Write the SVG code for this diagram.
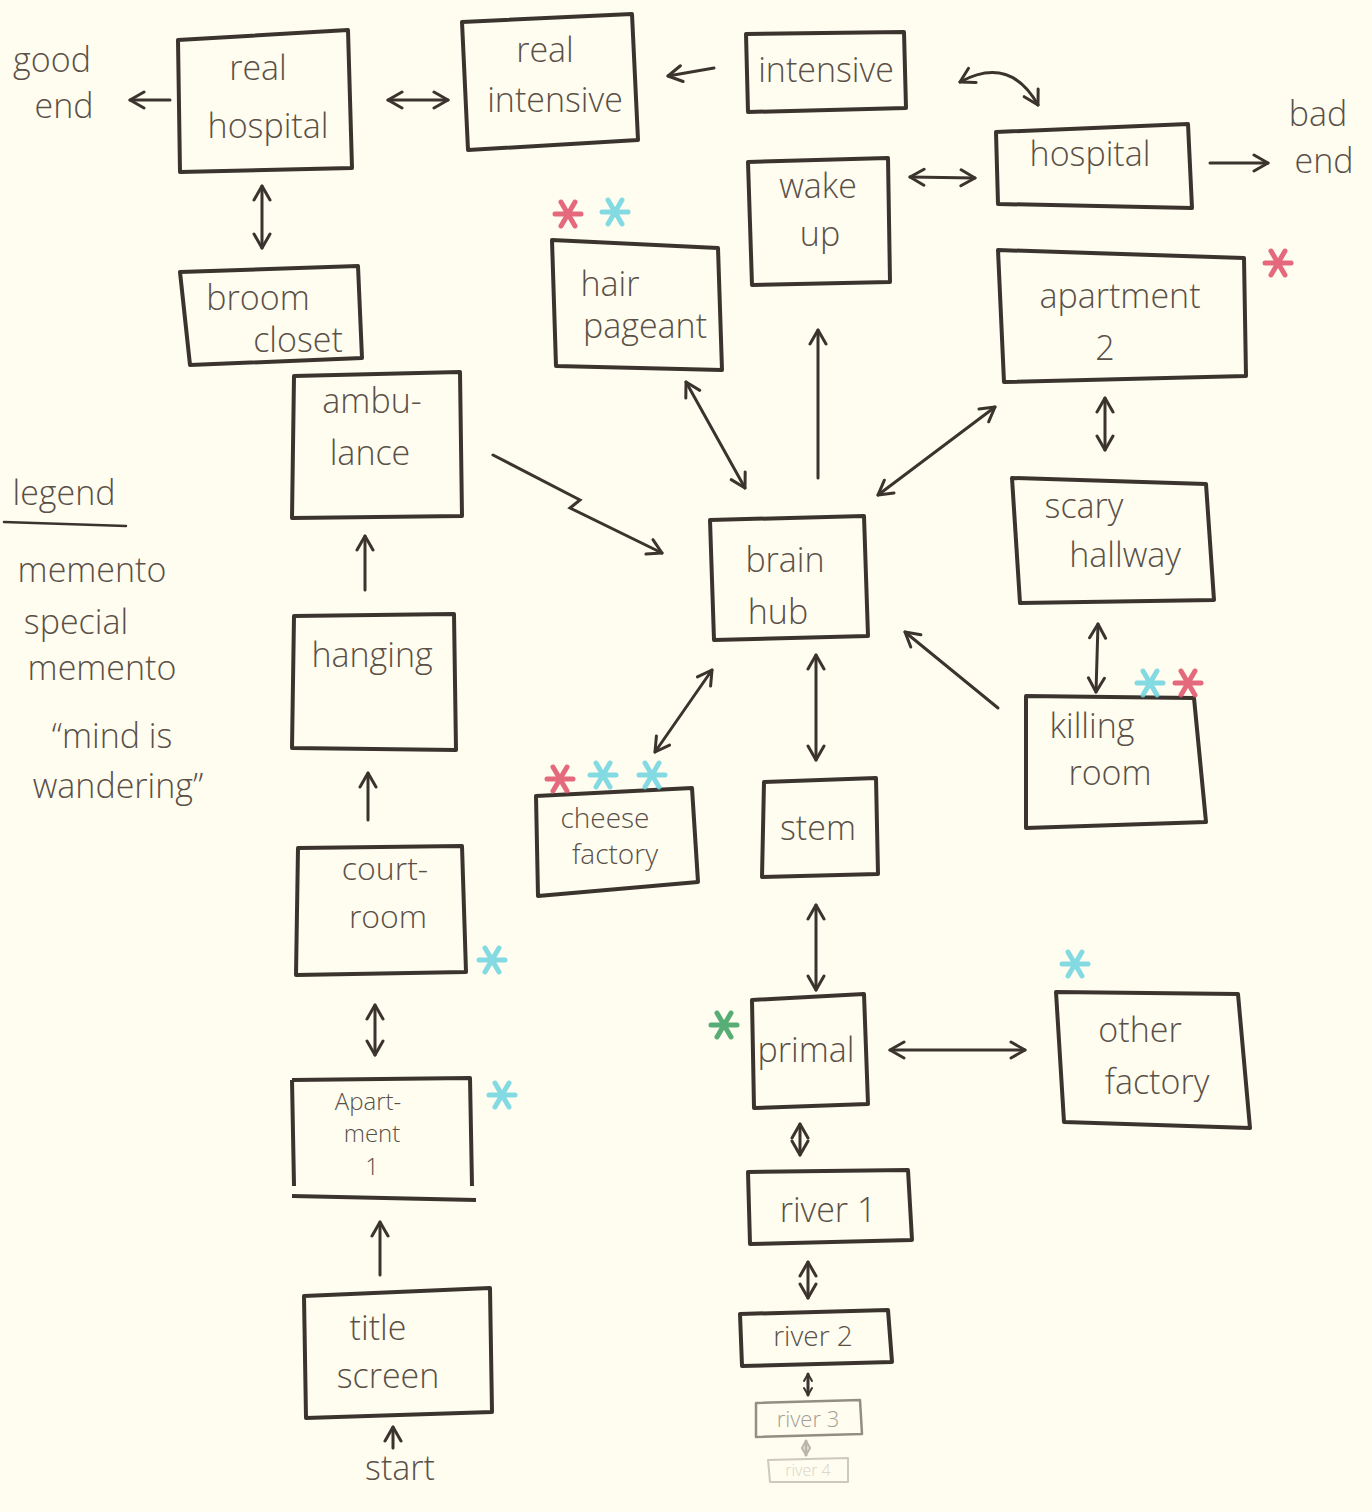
<svg xmlns="http://www.w3.org/2000/svg" width="1372" height="1512" viewBox="0 0 1372 1512">
<style>
.bx{fill:none;stroke:#3b342e;stroke-width:4;stroke-linejoin:round}
.t{font-family:"Open Sans","DejaVu Sans",sans-serif;font-size:34px;fill:#5a5048;text-anchor:middle;font-weight:300}
.ts{font-size:28px}
.tx{font-size:24px}
.tm{font-size:32px}
.c{fill:none;stroke:#3b342e;stroke-width:3;stroke-linecap:round}
.st{stroke-width:5;stroke-linecap:round;opacity:0.85}
.red{stroke:#e0506a}
.cy{stroke:#6fd4e0}
.gr{stroke:#3aa060}
.faint{opacity:0.35}
</style>
<defs>
<marker id="ah" viewBox="0 0 20 20" refX="18" refY="10" markerWidth="20" markerHeight="20" markerUnits="userSpaceOnUse" orient="auto-start-reverse">
<path d="M4,2 L18,10 L4,18" fill="none" stroke="#3b342e" stroke-width="3" stroke-linecap="round" stroke-linejoin="round"/>
</marker>
<marker id="ahs" viewBox="0 0 20 20" refX="18" refY="10" markerWidth="10" markerHeight="10" markerUnits="userSpaceOnUse" orient="auto-start-reverse">
<path d="M4,2 L18,10 L4,18" fill="none" stroke="#3b342e" stroke-width="4" stroke-linecap="round" stroke-linejoin="round"/>
</marker>
<g id="star"><line x1="-13" y1="0" x2="13" y2="0"/><line x1="-7" y1="-12" x2="7" y2="12"/><line x1="7" y1="-12" x2="-7" y2="12"/></g>
</defs>
<rect width="1372" height="1512" fill="#fffdef"/>

<g id="connectors">
<path class="c" d="M170,100 L130,100" marker-end="url(#ah)"/>
<path class="c" d="M388,100 L448,100" marker-start="url(#ah)" marker-end="url(#ah)"/>
<path class="c" d="M714,68 L668,76" marker-end="url(#ah)"/>
<path class="c" d="M960,82 Q1010,55 1038,105" marker-start="url(#ah)" marker-end="url(#ah)"/>
<path class="c" d="M910,177 L975,178" marker-start="url(#ah)" marker-end="url(#ah)"/>
<path class="c" d="M1210,163 L1268,163" marker-end="url(#ah)"/>
<path class="c" d="M262,186 L262,248" marker-start="url(#ah)" marker-end="url(#ah)"/>
<path class="c" d="M493,455 L580,500 L570,508 L662,553" marker-end="url(#ah)"/>
<path class="c" d="M365,590 L365,536" marker-end="url(#ah)"/>
<path class="c" d="M368,820 L368,773" marker-end="url(#ah)"/>
<path class="c" d="M375,1005 L375,1055" marker-start="url(#ah)" marker-end="url(#ah)"/>
<path class="c" d="M380,1275 L380,1222" marker-end="url(#ah)"/>
<path class="c" d="M393,1448 L393,1427" marker-end="url(#ah)"/>
<path class="c" d="M745,488 L686,382" marker-start="url(#ah)" marker-end="url(#ah)"/>
<path class="c" d="M818,478 L818,330" marker-end="url(#ah)"/>
<path class="c" d="M878,495 L995,407" marker-start="url(#ah)" marker-end="url(#ah)"/>
<path class="c" d="M1105,398 L1105,450" marker-start="url(#ah)" marker-end="url(#ah)"/>
<path class="c" d="M1098,624 L1096,692" marker-start="url(#ah)" marker-end="url(#ah)"/>
<path class="c" d="M998,708 L905,632" marker-end="url(#ah)"/>
<path class="c" d="M712,670 L655,752" marker-start="url(#ah)" marker-end="url(#ah)"/>
<path class="c" d="M816,655 L816,760" marker-start="url(#ah)" marker-end="url(#ah)"/>
<path class="c" d="M816,905 L816,990" marker-start="url(#ah)" marker-end="url(#ah)"/>
<path class="c" d="M890,1050 L1025,1050" marker-start="url(#ah)" marker-end="url(#ah)"/>
<path class="c" d="M800,1124 L800,1155" marker-start="url(#ah)" marker-end="url(#ah)"/>
<path class="c" d="M808,1262 L808,1298" marker-start="url(#ah)" marker-end="url(#ah)"/>
<path class="c" d="M808,1374 L808,1395" marker-start="url(#ahs)" marker-end="url(#ahs)"/>
<path class="c faint" d="M806,1441 L806,1455" marker-start="url(#ahs)" marker-end="url(#ahs)"/>
</g>

<g id="good-end"><text class="t" x="52" y="72">good</text><text class="t" x="64" y="118">end</text></g>
<g id="bad-end"><text class="t" x="1318" y="126">bad</text><text class="t" x="1324" y="173">end</text></g>
<g id="start"><text class="t" x="400" y="1480">start</text></g>

<g id="real-hospital"><path class="bx" d="M178,40 L348,30 L352,168 L180,172 Z"/><text class="t" x="258" y="80">real</text><text class="t" x="268" y="138">hospital</text></g>
<g id="real-intensive"><path class="bx" d="M462,22 L632,14 L638,140 L468,150 Z"/><text class="t" x="545" y="62">real</text><text class="t" x="555" y="112">intensive</text></g>
<g id="intensive"><path class="bx" d="M746,34 L904,32 L906,108 L748,112 Z"/><text class="t" x="826" y="82">intensive</text></g>
<g id="hospital"><path class="bx" d="M996,132 L1188,124 L1192,208 L998,204 Z"/><text class="t" x="1090" y="166">hospital</text></g>
<g id="wake-up"><path class="bx" d="M748,162 L888,158 L890,282 L752,285 Z"/><text class="t" x="818" y="198">wake</text><text class="t" x="820" y="246">up</text></g>
<g id="hair-pageant"><path class="bx" d="M552,240 L718,248 L722,370 L556,366 Z"/><text class="t" x="610" y="296">hair</text><text class="t" x="645" y="338">pageant</text>
<use href="#star" x="568" y="214" class="st red"/><use href="#star" x="615" y="212" class="st cy"/></g>
<g id="apartment-2"><path class="bx" d="M998,250 L1244,258 L1246,376 L1004,382 Z"/><text class="t" x="1120" y="308">apartment</text><text class="t" x="1105" y="360">2</text>
<use href="#star" x="1278" y="263" class="st red"/></g>
<g id="broom-closet"><path class="bx" d="M180,272 L358,266 L362,358 L190,365 Z"/><text class="t" x="258" y="310">broom</text><text class="t" x="298" y="352">closet</text></g>
<g id="ambulance"><path class="bx" d="M294,376 L460,372 L462,516 L292,518 Z"/><text class="t" x="372" y="413">ambu-</text><text class="t" x="370" y="465">lance</text></g>
<g id="brain-hub"><path class="bx" d="M710,520 L864,516 L868,636 L714,640 Z"/><text class="t" x="785" y="572">brain</text><text class="t" x="778" y="624">hub</text></g>
<g id="scary-hallway"><path class="bx" d="M1012,478 L1206,484 L1214,600 L1020,603 Z"/><text class="t" x="1084" y="518">scary</text><text class="t" x="1125" y="567">hallway</text></g>
<g id="hanging"><path class="bx" d="M294,616 L454,614 L456,750 L292,748 Z"/><text class="t" x="372" y="667">hanging</text></g>
<g id="killing-room"><path class="bx" d="M1026,696 L1194,698 L1206,822 L1026,828 Z"/><text class="t" x="1092" y="738">killing</text><text class="t" x="1110" y="785">room</text>
<use href="#star" x="1150" y="683" class="st cy"/><use href="#star" x="1188" y="683" class="st red"/></g>
<g id="cheese-factory"><path class="bx" d="M536,796 L692,788 L698,882 L538,896 Z"/><text class="t ts" x="605" y="828">cheese</text><text class="t ts" x="615" y="864">factory</text>
<use href="#star" x="560" y="779" class="st red"/><use href="#star" x="603" y="775" class="st cy"/><use href="#star" x="652" y="775" class="st cy"/></g>
<g id="stem"><path class="bx" d="M764,782 L876,778 L878,874 L762,877 Z"/><text class="t" x="818" y="840">stem</text></g>
<g id="court-room"><path class="bx" d="M298,848 L462,846 L466,972 L296,975 Z"/><text class="t tm" x="385" y="880">court-</text><text class="t tm" x="388" y="928">room</text>
<use href="#star" x="492" y="960" class="st cy"/></g>
<g id="primal"><path class="bx" d="M752,1000 L864,994 L868,1104 L754,1108 Z"/><text class="t" x="806" y="1062">primal</text>
<use href="#star" x="724" y="1025" class="st gr"/></g>
<g id="other-factory"><path class="bx" d="M1056,992 L1238,994 L1250,1128 L1064,1122 Z"/><text class="t" x="1140" y="1042">other</text><text class="t" x="1157" y="1094">factory</text>
<use href="#star" x="1075" y="964" class="st cy"/></g>
<g id="apartment-1"><path class="bx" d="M292,1080 L470,1078 L472,1186 M294,1186 L292,1080 M292,1196 L476,1200"/><text class="t tx" x="368" y="1110">Apart-</text><text class="t tx" x="372" y="1142">ment</text><text class="t tx" x="372" y="1175">1</text>
<use href="#star" x="502" y="1095" class="st cy"/></g>
<g id="river-1"><path class="bx" d="M748,1172 L908,1170 L912,1240 L750,1244 Z"/><text class="t" x="828" y="1222">river 1</text></g>
<g id="title-screen"><path class="bx" d="M304,1296 L490,1288 L492,1412 L306,1418 Z"/><text class="t" x="378" y="1340">title</text><text class="t" x="388" y="1388">screen</text></g>
<g id="river-2"><path class="bx" d="M740,1314 L888,1310 L892,1362 L742,1366 Z"/><text class="t ts" x="813" y="1346">river 2</text></g>
<g id="river-3" opacity="0.55"><path class="bx" d="M756,1403 L860,1400 L862,1434 L756,1437 Z" style="stroke-width:2.5"/><text class="t" x="808" y="1427" style="font-size:22px">river 3</text></g>
<g id="river-4" opacity="0.25"><path class="bx" d="M768,1460 L848,1458 L848,1482 L770,1482 Z" style="stroke-width:2"/><text class="t" x="808" y="1476" style="font-size:16px">river 4</text></g>

<g id="legend">
<text class="t" x="64" y="505">legend</text>
<path class="c" d="M4,522 L126,526" style="stroke-width:2.5"/>
<text class="t" x="92" y="582">memento</text>
<text class="t" x="76" y="634">special</text>
<text class="t" x="102" y="680">memento</text>
<text class="t" x="112" y="748">“mind is</text>
<text class="t" x="118" y="798">wandering”</text>
</g>
</svg>
